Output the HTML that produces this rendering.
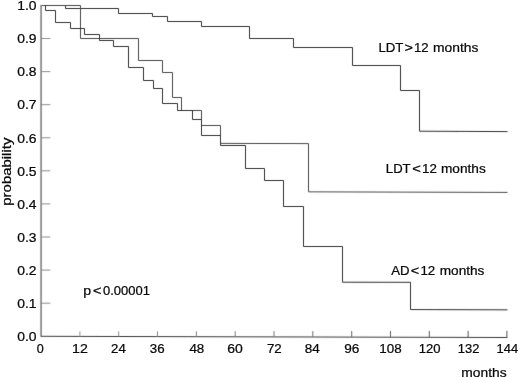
<!DOCTYPE html>
<html><head><meta charset="utf-8"><title>survival probability</title>
<style>html,body{margin:0;padding:0;background:#fff}svg{display:block}text{font-family:"Liberation Sans",Arial,Helvetica,sans-serif;font-size:12.6px;fill:#0a0a0a;stroke:#0a0a0a;stroke-width:0.24px}</style></head><body>
<svg width="520" height="378" viewBox="0 0 520 378">
<rect width="520" height="378" fill="#fff"/>
<defs><filter id="soft" x="-2%" y="-2%" width="104%" height="104%"><feConvolveMatrix order="3" kernelMatrix="0.01 0.06 0.01 0.06 0.72 0.06 0.01 0.06 0.01" divisor="1" edgeMode="none" preserveAlpha="false"/></filter></defs>
<g fill="none" stroke="#3e3e3e" stroke-width="1" filter="url(#soft)">
<path d="M41.05 5 V336.3" stroke="#383838"/>
<path d="M40.65 336.3 L507.3 337.5" stroke="#3c3c3c"/>
<path d="M41.05 303.2 h9.3" stroke="#7a7a7a" stroke-width="0.85"/>
<path d="M41.05 270.1 h9.3" stroke="#7a7a7a" stroke-width="0.85"/>
<path d="M41.05 237.0 h9.3" stroke="#7a7a7a" stroke-width="0.85"/>
<path d="M41.05 203.9 h9.3" stroke="#7a7a7a" stroke-width="0.85"/>
<path d="M41.05 170.8 h9.3" stroke="#7a7a7a" stroke-width="0.85"/>
<path d="M41.05 137.8 h9.3" stroke="#7a7a7a" stroke-width="0.85"/>
<path d="M41.05 104.7 h9.3" stroke="#7a7a7a" stroke-width="0.85"/>
<path d="M41.05 71.6 h9.3" stroke="#7a7a7a" stroke-width="0.85"/>
<path d="M41.05 38.5 h9.3" stroke="#7a7a7a" stroke-width="0.85"/>
<path d="M79.9 336.4 v-5.0" stroke="#939393"/>
<path d="M118.7 336.5 v-5.1" stroke="#8d8d8d"/>
<path d="M157.5 336.6 v-5.3" stroke="#878787"/>
<path d="M196.4 336.7 v-5.4" stroke="#818181"/>
<path d="M235.2 336.8 v-5.6" stroke="#7b7b7b"/>
<path d="M274.0 336.9 v-5.8" stroke="#757575"/>
<path d="M312.8 337.0 v-5.9" stroke="#6e6e6e"/>
<path d="M351.7 337.1 v-6.1" stroke="#686868"/>
<path d="M390.5 337.2 v-6.2" stroke="#626262"/>
<path d="M429.3 337.3 v-6.4" stroke="#5c5c5c"/>
<path d="M468.1 337.4 v-6.5" stroke="#565656"/>
<path d="M506.9 337.5 v-6.7" stroke="#505050"/>
<path d="M65.5 5.4 L65.5 8.5 L118.5 8.5 L118.5 13.5 L152.5 13.5 L152.5 16.5 L167.5 16.5 L167.5 21.5 L201.5 21.5 L201.5 26.5 L249.5 26.5 L249.5 38.5 L293.5 38.5 L293.5 47.5 L352.5 47.5 L352.5 65.5 L400.5 65.5 L400.5 90.5 L419.5 90.5 L419.5 131.2 L507.5 131.6" stroke="#303030"/>
<path d="M41.5 5.5 L80.5 5.5 L80.5 38.5 L138.5 38.5 L138.5 60.5 L162.5 60.5 L162.5 72.5 L172.5 72.5 L172.5 97.5 L181.5 97.5 L181.5 110.5 L201.5 110.5 L201.5 125.5 L220.5 125.5 L220.5 143.4 L308.5 143.6 L308.5 191.85 L507.5 192.4" stroke="#4a4a4a"/>
<path d="M45.5 5.4 L45.5 10.5 L55.5 10.5 L55.5 22.5 L70.5 22.5 L70.5 28.5 L84.5 28.5 L84.5 34.5 L99.5 34.5 L99.5 40.5 L113.5 40.5 L113.5 46.5 L128.5 46.5 L128.5 67.5 L143.5 67.5 L143.5 80.5 L153.5 80.5 L153.5 88.5 L162.5 88.5 L162.5 103.5 L177.5 103.5 L177.5 110.5 L192.5 110.5 L192.5 119.5 L201.5 119.5 L201.5 135.5 L220.5 135.5 L220.5 145.5 L245.5 145.5 L245.5 168.5 L264.5 168.5 L264.5 180.5 L283.5 180.5 L283.5 206.5 L303.5 206.5 L303.5 246.5 L342.5 246.5 L342.5 282.2 L410.5 282.3 L410.5 309.55 L507.5 309.85" stroke="#303030"/>
</g>
<text x="17.30" y="341.3" textLength="19.30" lengthAdjust="spacingAndGlyphs">0.0</text>
<text x="17.30" y="307.9" textLength="19.30" lengthAdjust="spacingAndGlyphs">0.1</text>
<text x="17.30" y="274.8" textLength="19.30" lengthAdjust="spacingAndGlyphs">0.2</text>
<text x="17.30" y="241.7" textLength="19.30" lengthAdjust="spacingAndGlyphs">0.3</text>
<text x="17.30" y="208.6" textLength="19.30" lengthAdjust="spacingAndGlyphs">0.4</text>
<text x="17.30" y="175.5" textLength="19.30" lengthAdjust="spacingAndGlyphs">0.5</text>
<text x="17.30" y="142.5" textLength="19.30" lengthAdjust="spacingAndGlyphs">0.6</text>
<text x="17.30" y="109.4" textLength="19.30" lengthAdjust="spacingAndGlyphs">0.7</text>
<text x="17.30" y="76.3" textLength="19.30" lengthAdjust="spacingAndGlyphs">0.8</text>
<text x="17.30" y="43.2" textLength="19.30" lengthAdjust="spacingAndGlyphs">0.9</text>
<text x="17.30" y="10.1" textLength="19.30" lengthAdjust="spacingAndGlyphs">1.0</text>
<text x="36.81" y="353.2" textLength="6.98" lengthAdjust="spacingAndGlyphs">0</text>
<text x="72.09" y="353.2" textLength="15.76" lengthAdjust="spacingAndGlyphs">12</text>
<text x="111.04" y="353.2" textLength="14.72" lengthAdjust="spacingAndGlyphs">24</text>
<text x="149.80" y="353.2" textLength="14.79" lengthAdjust="spacingAndGlyphs">36</text>
<text x="189.41" y="353.2" textLength="14.91" lengthAdjust="spacingAndGlyphs">48</text>
<text x="227.31" y="353.2" textLength="15.55" lengthAdjust="spacingAndGlyphs">60</text>
<text x="266.91" y="353.2" textLength="14.79" lengthAdjust="spacingAndGlyphs">72</text>
<text x="304.83" y="353.2" textLength="15.04" lengthAdjust="spacingAndGlyphs">84</text>
<text x="344.20" y="353.2" textLength="15.12" lengthAdjust="spacingAndGlyphs">96</text>
<text x="379.31" y="353.2" textLength="22.30" lengthAdjust="spacingAndGlyphs">108</text>
<text x="418.79" y="353.2" textLength="21.75" lengthAdjust="spacingAndGlyphs">120</text>
<text x="457.81" y="353.2" textLength="21.60" lengthAdjust="spacingAndGlyphs">132</text>
<text x="496.55" y="353.2" textLength="21.58" lengthAdjust="spacingAndGlyphs">144</text>
<text x="378.48" y="51.8" textLength="24.97" lengthAdjust="spacingAndGlyphs">LDT</text>
<text x="404.64" y="51.8" textLength="8.43" lengthAdjust="spacingAndGlyphs">&gt;</text>
<text x="414.07" y="51.8" textLength="14.61" lengthAdjust="spacingAndGlyphs">12</text>
<text x="433.06" y="51.8" textLength="45.35" lengthAdjust="spacingAndGlyphs">months</text>
<text x="385.89" y="173.0" textLength="24.74" lengthAdjust="spacingAndGlyphs">LDT</text>
<text x="412.32" y="173.0" textLength="8.65" lengthAdjust="spacingAndGlyphs">&lt;</text>
<text x="422.02" y="173.0" textLength="14.81" lengthAdjust="spacingAndGlyphs">12</text>
<text x="441.00" y="173.0" textLength="44.74" lengthAdjust="spacingAndGlyphs">months</text>
<text x="391.18" y="274.6" textLength="18.34" lengthAdjust="spacingAndGlyphs">AD</text>
<text x="410.87" y="274.6" textLength="8.42" lengthAdjust="spacingAndGlyphs">&lt;</text>
<text x="420.45" y="274.6" textLength="14.83" lengthAdjust="spacingAndGlyphs">12</text>
<text x="439.71" y="274.6" textLength="44.75" lengthAdjust="spacingAndGlyphs">months</text>
<text x="83.22" y="294.6" textLength="7.86" lengthAdjust="spacingAndGlyphs">p</text>
<text x="92.96" y="294.6" textLength="8.48" lengthAdjust="spacingAndGlyphs">&lt;</text>
<text x="103.03" y="294.6" textLength="46.85" lengthAdjust="spacingAndGlyphs">0.00001</text>
<text x="461.35" y="377.2" textLength="45.28" lengthAdjust="spacingAndGlyphs">months</text>
<text transform="translate(11.4 205.7) rotate(-90)" textLength="68.05" lengthAdjust="spacingAndGlyphs">probability</text>
</svg></body></html>
